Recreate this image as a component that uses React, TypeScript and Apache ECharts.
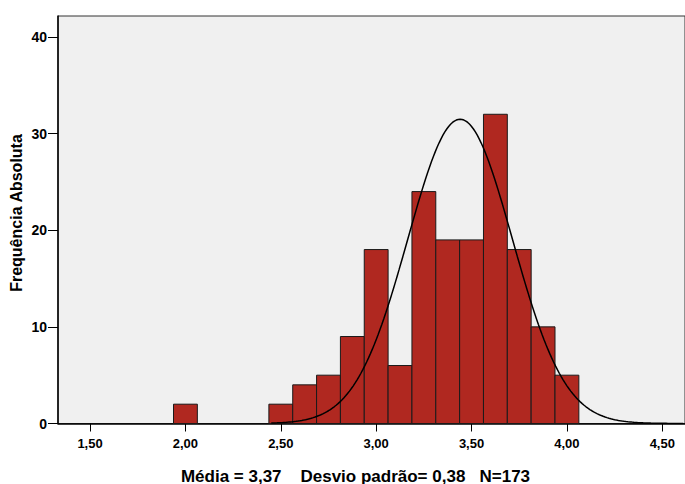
import React, { useEffect, useRef } from "react";
import * as echarts from "echarts";

const binCenters = [2.0, 2.5, 2.625, 2.75, 2.875, 3.0, 3.125, 3.25, 3.375, 3.5, 3.625, 3.75, 3.875, 4.0];
const counts = [2, 2, 4, 5, 9, 18, 6, 24, 19, 19, 32, 18, 10, 5];
const BIN_WIDTH = 0.125;
const xTicks = [1.5, 2.0, 2.5, 3.0, 3.5, 4.0, 4.5];
const yTicks = [0, 10, 20, 30, 40];
const N = 173;
const CURVE_MEAN = 3.44;
const CURVE_SD = 0.274;
const CURVE_START = 2.45;
const X_MIN = 1.332;
const X_MAX = 4.619;
const Y_MAX = 42.17;

const footerText = "Média = 3,37    Desvio padrão= 0,38   N=173";
const yTitle = "Frequência Absoluta";

function buildCurve(): number[][] {
  const pts: number[][] = [];
  const amp = (N * BIN_WIDTH) / (CURVE_SD * Math.sqrt(2 * Math.PI));
  for (let x = CURVE_START; x <= X_MAX + 0.0001; x += 0.01) {
    const z = (x - CURVE_MEAN) / CURVE_SD;
    pts.push([x, amp * Math.exp(-0.5 * z * z)]);
  }
  return pts;
}

export default function App() {
  const ref = useRef<HTMLDivElement>(null);
  useEffect(() => {
    if (!ref.current) return;
    const chart = echarts.init(ref.current, null, { renderer: "svg" });
    const font = "'Liberation Sans', Arial, sans-serif";
    chart.setOption({
      animation: false,
      backgroundColor: "#ffffff",
      textStyle: { fontFamily: font },
      grid: {
        left: 58,
        top: 16,
        right: 0,
        bottom: 60.5,
        show: true,
        backgroundColor: "#f0f0f0",
        borderColor: "#333333",
        borderWidth: 1,
      },
      xAxis: {
        type: "value",
        min: X_MIN,
        max: X_MAX,
        splitLine: { show: false },
        axisLine: { show: true, lineStyle: { color: "#000", width: 1.5 } },
        axisTick: {
          show: true,
          customValues: xTicks,
          length: 8,
          lineStyle: { color: "#000", width: 1 },
        },
        axisLabel: {
          customValues: xTicks,
          formatter: (v: number) => v.toFixed(2).replace(".", ","),
          fontSize: 13,
          fontWeight: "bold",
          color: "#000",
          margin: 13,
          fontFamily: font,
        },
      },
      yAxis: {
        type: "value",
        min: 0,
        max: Y_MAX,
        splitLine: { show: false },
        axisLine: { show: true, lineStyle: { color: "#000", width: 1.5 } },
        axisTick: {
          show: true,
          customValues: yTicks,
          length: 10,
          lineStyle: { color: "#000", width: 1 },
        },
        axisLabel: {
          customValues: yTicks,
          fontSize: 14,
          fontWeight: "bold",
          color: "#000",
          margin: 11,
          fontFamily: font,
        },
      },
      graphic: [
        {
          type: "text",
          x: 16,
          y: 213,
          rotation: Math.PI / 2,
          style: {
            text: yTitle,
            fontSize: 16,
            fontWeight: "bold",
            fill: "#000",
            align: "center",
            verticalAlign: "middle",
            fontFamily: font,
          },
        },
        {
          type: "text",
          x: 355.5,
          y: 476,
          style: {
            text: footerText,
            fontSize: 17,
            fontWeight: "bold",
            fill: "#000",
            align: "center",
            verticalAlign: "middle",
            fontFamily: font,
          },
        },
      ],
      series: [
        {
          type: "custom",
          data: binCenters.map((c, i) => [c, counts[i]]),
          encode: { x: 0, y: 1 },
          renderItem: (params: any, api: any) => {
            const c = api.value(0);
            const v = api.value(1);
            const p0 = api.coord([c - BIN_WIDTH / 2, v]);
            const p1 = api.coord([c + BIN_WIDTH / 2, 0]);
            return {
              type: "rect",
              shape: {
                x: p0[0],
                y: p0[1],
                width: p1[0] - p0[0],
                height: p1[1] - p0[1],
              },
              style: { fill: "#b02820", stroke: "#1a1a1a", lineWidth: 1 },
            };
          },
          z: 2,
        },
        {
          type: "line",
          data: buildCurve(),
          showSymbol: false,
          symbol: "none",
          smooth: false,
          lineStyle: { color: "#000", width: 1.5 },
          z: 3,
        },
      ],
    });
    return () => chart.dispose();
  }, []);
  return (
    <div
      ref={ref}
      style={{ position: "fixed", left: 0, top: 0, width: 685, height: 484 }}
    />
  );
}
